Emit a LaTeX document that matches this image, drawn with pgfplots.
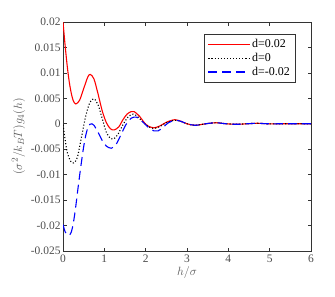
\documentclass[border=0pt]{standalone}
\usepackage{fontspec}
\setmainfont{Liberation Serif}
\usepackage{pgfplots}
\pgfplotsset{compat=1.18}
\begin{document}
\begin{tikzpicture}
\begin{axis}[
  scale only axis,
  width=248bp, height=229bp,
  xmin=0, xmax=6, ymin=-0.025, ymax=0.02,
  xtick={0,1,2,3,4,5,6},
  ytick={-0.025,-0.02,-0.015,-0.01,-0.005,0,0.005,0.01,0.015,0.02},
  yticklabels={-0.025,-0.02,-0.015,-0.01,-0.005,0,0.005,0.01,0.015,0.02},
  scaled y ticks=false,
  /pgf/number format/assume math mode=true,
  tick label style={font=\fontsize{11.5}{13}\selectfont, text=black!70},
  yticklabel style={xshift=1bp},
  tick align=inside,
  major tick length=3.5bp,
  axis line style={black!80, line width=1pt},
  every tick/.style={black!80, line width=0.6pt},
  xlabel={$h/\sigma$},
  ylabel={$(\sigma^2/k_BT)g_4(h)$},
  label style={font=\fontsize{13}{15}\selectfont, text=black!65},
  xlabel style={yshift=3bp},
  ylabel style={yshift=-1bp},
  legend style={name=leg, at={(rel axis cs:1,1)}, xshift=-16bp, yshift=-12.5bp, anchor=north east,
    draw=none, fill=white, font=\fontsize{12}{13}\selectfont,
    row sep=0pt, inner xsep=3pt, inner ysep=3pt, cells={anchor=west}},
  legend image code/.code={\draw[#1, line width=1.4pt] (0cm,0cm) -- (1.45cm,0cm);},
]
\addplot[red, line width=1.1pt, smooth] coordinates {
(0,0.02) (0.05,0.0155) (0.1,0.0115) (0.15,0.0083) (0.2,0.006) (0.25,0.0045) (0.31,0.0039)
(0.4,0.0046) (0.5,0.0069) (0.6,0.0092) (0.66,0.0097) (0.75,0.0088) (0.85,0.0058) (0.95,0.0025)
(1.05,0.0002) (1.15,-0.0010) (1.24,-0.0012) (1.35,-0.0006) (1.45,0.0008) (1.55,0.0019)
(1.65,0.0024) (1.72,0.0024) (1.85,0.0015) (1.95,0.0004) (2.05,-0.0004) (2.2,-0.0008)
(2.35,-0.0004) (2.5,0.0003) (2.7,0.0008) (2.85,0.0005) (3.0,0.0) (3.2,-0.0003) (3.45,0.0)
(3.7,0.0002) (3.95,0.0) (4.2,-0.0001) (4.45,0) (4.7,0.0001) (4.95,0) (5.3,0) (5.7,0) (6,0)
};
\addlegendentry{d=0.02}
\addplot[black, line width=1.1pt, dotted, smooth] coordinates {
(0,-0.0002) (0.05,-0.003) (0.1,-0.0055) (0.18,-0.0073) (0.26,-0.0077) (0.35,-0.0065)
(0.45,-0.0025) (0.55,0.0015) (0.65,0.0042) (0.75,0.0049) (0.85,0.0037) (0.95,0.001)
(1.05,-0.0017) (1.15,-0.0029) (1.22,-0.003) (1.32,-0.0022) (1.45,-0.0002) (1.58,0.0014)
(1.7,0.0019) (1.82,0.0013) (1.95,0.0002) (2.1,-0.0007) (2.22,-0.0009) (2.35,-0.0005)
(2.5,0.0002) (2.7,0.0007) (2.85,0.0005) (3.0,0.0) (3.2,-0.0003) (3.45,0) (3.7,0.0002)
(3.95,0) (4.2,-0.0001) (4.45,0) (4.7,0.0001) (4.95,0) (5.3,0) (5.7,0) (6,0)
};
\addlegendentry{d=0}
\addplot[blue, line width=1.1pt, dash pattern=on 9bp off 5bp, smooth] coordinates {
(0,-0.0198) (0.05,-0.0212) (0.1,-0.0218) (0.15,-0.0219) (0.2,-0.0213) (0.25,-0.0195)
(0.3,-0.0168) (0.35,-0.0135) (0.4,-0.0103) (0.45,-0.0073) (0.5,-0.0045) (0.55,-0.0023)
(0.6,-0.0008) (0.65,-0.0001) (0.7,0.0) (0.75,-0.0003) (0.85,-0.0017) (0.95,-0.0033)
(1.05,-0.0044) (1.17,-0.0048) (1.28,-0.0041) (1.4,-0.0022) (1.52,-0.0002) (1.65,0.0011)
(1.78,0.0013) (1.9,0.0006) (2.05,-0.0006) (2.2,-0.0014) (2.3,-0.0014) (2.42,-0.0007)
(2.55,0.0002) (2.72,0.0007) (2.88,0.0004) (3.0,0) (3.2,-0.0003) (3.45,0) (3.7,0.0002)
(3.95,0) (4.2,-0.0001) (4.45,0) (4.7,0.0001) (4.95,0) (5.3,0) (5.7,0) (6,0)
};
\addlegendentry{d=-0.02}
\end{axis}
\draw[black!80, line width=1pt] (leg.south west) rectangle (leg.north east);
\useasboundingbox (current axis.south west) ++(-63bp,-45bp) rectangle ([shift={(24bp,22bp)}]current axis.north east);
\end{tikzpicture}
\end{document}
